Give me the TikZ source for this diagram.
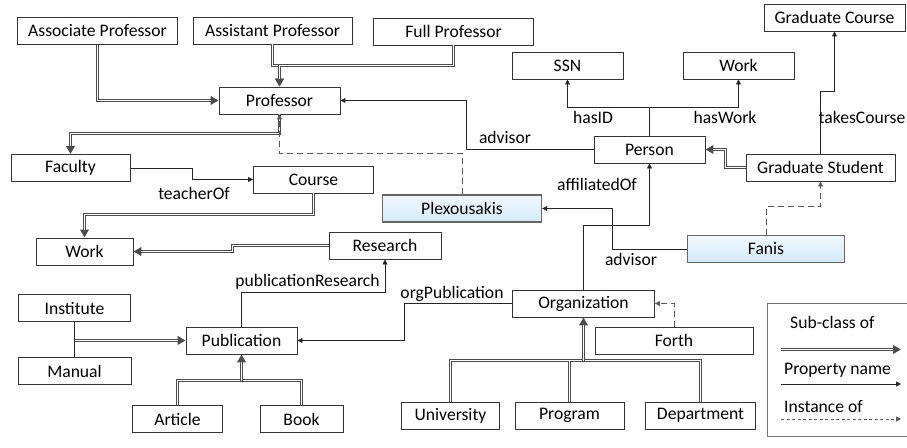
\documentclass[tikz,border=0pt]{standalone}
\usepackage{fontspec}
\setmainfont{Carlito}
\usetikzlibrary{arrows.meta,calc}
\definecolor{insttop}{HTML}{F0F8FE}
\definecolor{instbot}{HTML}{D4EAF9}
\begin{document}
\begin{tikzpicture}[x=1pt,y=-1pt,
  txt/.style={font=\fontsize{17.6}{20}\selectfont},
  box/.style={txt, draw=black!80, line width=0.9pt, fill=white, inner sep=0pt, minimum height=27pt},
  inst/.style={box, top color=insttop, bottom color=instbot, draw=black!60, line width=1.4pt},
  dbl/.style={draw=black!70, line width=3pt, line join=miter},
  subline/.style={dbl, postaction={draw=white, line width=1pt}},
  sub/.style={dbl, -{Triangle[length=8pt,width=8.5pt]},
     postaction={draw=white, line width=1pt, -, shorten >=8pt}},
  prop/.style={draw=black!85, line width=0.8pt, -{Triangle[length=5pt,width=5pt]}},
  plain/.style={draw=black!85, line width=0.8pt},
  inof/.style={draw=black!65, line width=0.8pt, dash pattern=on 6pt off 4pt, -{Triangle[length=5pt,width=5pt]}},
  lbl/.style={txt, inner sep=0pt}]
\useasboundingbox (0,0) rectangle (907,447);

% nodes
\node[box, minimum width=160pt] (assoc) at (97.5,31) {Associate Professor};
\node[box, minimum width=159pt] (assist) at (272.5,30.5) {Assistant Professor};
\node[box, minimum width=160pt] (full) at (453.5,31.5) {Full Professor};
\node[box, minimum width=121pt] (prof) at (279.5,100.5) {Professor};
\node[box, minimum width=111pt] (ssn) at (567.5,65.5) {SSN};
\node[box, minimum width=111pt] (worktop) at (738.5,65.5) {Work};
\node[box, minimum width=141pt] (gcourse) at (834.5,17.5) {Graduate Course};
\node[box, minimum width=111pt] (person) at (649.5,149.5) {Person};
\node[box, minimum width=149pt] (gstudent) at (820.5,167.5) {Graduate Student};
\node[box, minimum width=119pt] (faculty) at (70.5,168) {Faculty};
\node[box, minimum width=120pt] (course) at (313.5,179.5) {Course};
\node[inst, minimum width=159pt] (plex) at (462,208.5) {Plexousakis};
\node[box, minimum width=97pt] (workl) at (84.5,251.5) {Work};
\node[box, minimum width=112pt] (research) at (385,245.5) {Research};
\node[inst, minimum width=157pt] (fanis) at (766,249) {Fanis};
\node[box, minimum width=112pt] (institute) at (74.5,308) {Institute};
\node[box, minimum width=113pt] (manual) at (74.5,371) {Manual};
\node[box, minimum width=111pt] (publication) at (241.5,340.5) {Publication};
\node[box, minimum width=142pt] (organization) at (583.5,303.5) {Organization};
\node[box, minimum width=158pt] (forth) at (674,340.5) {Forth};
\node[box, minimum width=90pt] (article) at (177.5,419) {Article};
\node[box, minimum width=83pt] (book) at (301.5,419) {Book};
\node[box, minimum width=98pt] (university) at (450.5,415.5) {University};
\node[box, minimum width=109pt] (program) at (569.5,415.5) {Program};
\node[box, minimum width=110pt] (department) at (700.5,415.5) {Department};

% sub-class connectors
\draw[sub] (assoc.south) |- (prof.west);
\draw[sub] (assist.south) -- ++(0,21.5) -| (prof.north);
\draw[sub] (full.south) -- ++(0,20.5) -| (prof.north);
\draw[sub] (prof.south) -- ++(0,19.5) -| (faculty.north);
\draw[sub] (gstudent.west) -- ++(-20.5,0) |- (person.east);
\draw[sub] (course.south) -- ++(0,21.5) -| (workl.north);
\draw[sub] (research.west) -- ++(-96.5,0) |- (workl.east);
\draw[plain] (institute.south) -- (manual.north);
\coordinate (imj) at (74.5,340.5);
\draw[sub] (imj) -- (publication.west);
\coordinate (abj) at (241.5,380.5);
\draw[subline] (article.north) |- (abj) -| (book.north);
\draw[sub] (abj) -- (publication.south);
\coordinate (upj) at (583.5,360.5);
\draw[subline] (university.north) |- (upj) -| (department.north);
\draw[subline] (program.north) -- (program.north |- upj);
\draw[sub] (upj) -- (organization.south);

% instance connectors
\draw[inof] (plex.north) -- ++(0,-41) -| (prof.south);
\draw[inof] (fanis.north) -- ++(0,-28) -| (gstudent.south);
\draw[inof] (forth.north) |- (organization.east);

% property connectors
\draw[prop] (person.west) -- ++(-127,0) |- (prof.east);
\draw[prop] (person.north) -- ++(0,-28.5) -| (ssn.south);
\draw[prop] (person.north) -- ++(0,-28.5) -| (worktop.south);
\draw[prop] (gstudent.north) -- ++(0,-62) -| (gcourse.south);
\draw[prop] (fanis.west) -- ++(-74,0) |- (plex.east);
\draw[prop] (organization.north) -- ++(0,-64) -| (person.south);
\draw[prop] (faculty.east) -- ++(62,0) |- (course.west);
\draw[prop] (publication.north) -- ++(0,-34) -| (research.south);
\draw[prop] (organization.west) -- ++(-108,0) |- (publication.east);

% property labels
\node[lbl] (l1) at (505,137) {advisor};
\node[lbl] (l2) at (593,117) {hasID};
\node[lbl] (l3) at (725,117) {hasWork};
\node[lbl] (l4) at (862,117) {takesCourse};
\node[lbl] (l5) at (597,184) {affiliatedOf};
\node[lbl] (l6) at (631,259) {advisor};
\node[lbl] (l7) at (194,193) {teacherOf};
\node[lbl] (l8) at (307.5,282) {publicationResearch};
\node[lbl] (l9) at (452,294) {orgPublication};

% legend
\draw[draw=black!55, line width=0.8pt] (767,303) rectangle (915,436);
\node[lbl, anchor=west] (lg1) at (790,322) {Sub-class of};
\node[lbl, anchor=west] (lg2) at (784,370) {Property name};
\node[lbl, anchor=west] (lg3) at (784,407) {Instance of};
\coordinate (la1) at (781,349.5); \coordinate (lb1) at (901,349.5);
\coordinate (la2) at (781,384); \coordinate (lb2) at (901,384);
\coordinate (la3) at (781,419); \coordinate (lb3) at (901,419);
\draw[sub] (la1) -- (lb1);
\draw[prop] (la2) -- (lb2);
\draw[inof, dash pattern=on 3pt off 2.5pt] (la3) -- (lb3);
\end{tikzpicture}
\end{document}
